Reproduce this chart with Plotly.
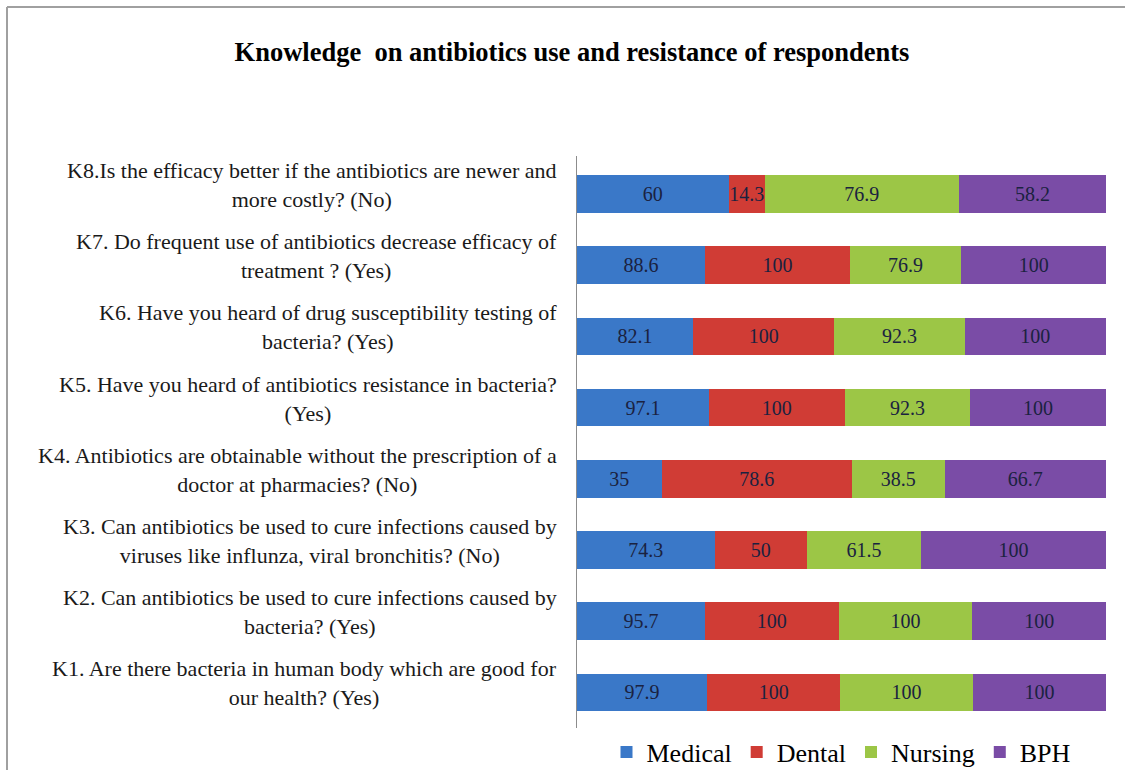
import plotly.graph_objects as go

# Survey items (bottom to top)
codes = ["K1", "K2", "K3", "K4", "K5", "K6", "K7", "K8"]
questions = [
    "K1. Are there bacteria in human body which are good for<br>our health? (Yes)",
    "K2. Can antibiotics be used to cure infections caused by<br>bacteria? (Yes)",
    "K3. Can antibiotics be used to cure infections caused by<br>viruses like influnza, viral bronchitis? (No)",
    "K4. Antibiotics are obtainable without the prescription of a<br>doctor at pharmacies? (No)",
    "K5. Have you heard of antibiotics resistance in bacteria?<br>(Yes)",
    "K6. Have you heard of drug susceptibility testing of<br>bacteria? (Yes)",
    "K7. Do frequent use of antibiotics decrease efficacy of<br>treatment ? (Yes)",
    "K8.Is the efficacy better if the antibiotics are newer and<br>more costly? (No)",
]

# Percentage of correct answers per student group
medical = [97.9, 95.7, 74.3, 35, 97.1, 82.1, 88.6, 60]
dental = [100, 100, 50, 78.6, 100, 100, 100, 14.3]
nursing = [100, 100, 61.5, 38.5, 92.3, 92.3, 76.9, 76.9]
bph = [100, 100, 100, 66.7, 100, 100, 100, 58.2]

series = [
    ("Medical", medical, "#3a78c8"),
    ("Dental", dental, "#d03c35"),
    ("Nursing", nursing, "#9cc646"),
    ("BPH", bph, "#7a4ca6"),
]

SERIF = "Liberation Serif, Times New Roman, serif"

fig = go.Figure()
for name, vals, color in series:
    fig.add_trace(go.Bar(
        name=name,
        y=codes,
        x=vals,
        orientation="h",
        marker=dict(color=color, line=dict(width=0)),
        text=vals,
        texttemplate="%{text}",
        textposition="inside",
        insidetextanchor="middle",
        textangle=0,
        constraintext="none",
        textfont=dict(family=SERIF, size=20, color="#1a2240"),
        width=0.53,
    ))

# Question labels, centred line-by-line to the left of the bars
for code, q in zip(codes, questions):
    fig.add_annotation(
        x=0, xref="paper", y=code, yref="y",
        text=q, showarrow=False,
        xanchor="right", yanchor="middle", align="center",
        xshift=-18, yshift=9,
        font=dict(family=SERIF, size=22, color="#1a1a1a"),
    )

# Thin grey frame along the top and left edges
fig.add_shape(type="line", xref="paper", yref="paper",
              x0=-570 / 529, x1=548 / 529, y0=(770 - 7 - 42) / 572, y1=(770 - 7 - 42) / 572,
              line=dict(color="#a0a0a0", width=2))
fig.add_shape(type="line", xref="paper", yref="paper",
              x0=-570 / 529, x1=-570 / 529, y0=-42 / 572, y1=(770 - 7 - 42) / 572,
              line=dict(color="#a0a0a0", width=2))

fig.update_layout(
    width=1125, height=770,
    margin=dict(l=577, r=19, t=156, b=42, autoexpand=False),
    barmode="stack",
    barnorm="percent",
    paper_bgcolor="white",
    plot_bgcolor="white",
    title=dict(
        text="<b>Knowledge  on antibiotics use and resistance of respondents</b>",
        x=572 / 1125, xanchor="center", y=1 - 52 / 770, yanchor="middle",
        font=dict(family=SERIF, size=26.5, color="black"),
    ),
    xaxis=dict(range=[0, 100], visible=False, fixedrange=True),
    yaxis=dict(showticklabels=False, showline=True, linecolor="#8c8c8c", linewidth=1,
               ticks="", showgrid=False, categoryorder="array", categoryarray=codes),
    legend=dict(
        orientation="h", x=0.5, xanchor="center", y=-24 / 572, yanchor="middle",
        font=dict(family=SERIF, size=26, color="black"),
        itemwidth=30, traceorder="normal",
    ),
    bargap=0.47,
)

fig.write_html("out.html")
